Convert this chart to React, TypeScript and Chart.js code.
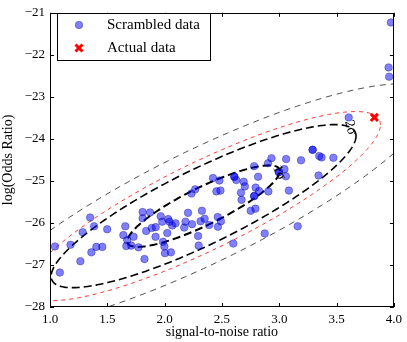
import React, { useEffect, useRef } from "react";
import { Chart, registerables } from "chart.js";

Chart.register(...registerables);

// Scrambled data (signal-to-noise ratio, log odds ratio)
const scrambledX = [
  1.043, 1.086, 1.179, 1.265, 1.285, 1.35, 1.361, 1.385, 1.404, 1.456,
  1.499, 1.657, 1.64, 1.674, 1.666, 1.709, 1.729, 1.772, 1.808, 1.808,
  1.824, 1.839, 1.873, 1.888, 1.922, 1.921, 1.966, 1.979, 1.986, 1.998,
  2.003, 2.023, 2.031, 2.043, 2.055, 2.066, 2.095, 2.171, 2.182, 2.204,
  2.239, 2.297, 2.292, 2.325, 2.314, 2.349, 2.388, 2.422, 2.464, 2.465,
  2.234, 2.267, 2.452, 2.478, 2.487, 2.491, 2.599, 2.608, 2.608, 2.625,
  2.69, 2.7, 2.666, 2.671, 2.781, 2.781, 2.781, 2.794, 2.815, 2.824,
  2.751, 2.792, 2.873, 2.902, 2.905, 2.932, 2.997, 2.997, 3.045, 3.06,
  3.058, 3.084, 3.161, 3.19, 3.291, 3.291, 3.349, 3.369, 3.343, 3.472,
  3.606, 3.974, 3.954, 3.959,
];
const scrambledY = [
  -26.56, -27.18, -26.52, -26.91, -26.22, -25.87, -26.7, -26.08, -26.57, -26.57,
  -26.15, -26.08, -26.29, -26.41, -26.55, -26.54, -26.33, -26.58, -25.74, -25.89,
  -26.86, -26.19, -25.75, -26.12, -26.1, -26.33, -25.84, -25.97, -26.45, -26.56,
  -26.72, -26.24, -25.91, -25.97, -26.7, -26.06, -26.01, -26.11, -25.97, -25.76,
  -26.03, -26.54, -26.31, -25.71, -25.96, -25.9, -26.05, -24.93, -25.86, -26.09,
  -25.3, -25.2, -25.25, -24.99, -25.23, -25.96, -26.49, -24.9, -24.9, -24.98,
  -25.02, -25.13, -25.28, -25.45, -24.65, -25.36, -25.36, -25.16, -24.9, -25.24,
  -25.71, -25.66, -26.25, -24.58, -25.25, -24.46, -24.79, -24.79, -24.72, -24.48,
  -24.89, -25.23, -26.08, -24.51, -24.26, -24.26, -24.41, -24.44, -24.87, -24.45,
  -23.49, -21.23, -22.3, -22.52,
];

// Actual data
const actualX = [3.83];
const actualY = [-23.49];

// Axis ticks
const xTicks = [1.0, 1.5, 2.0, 2.5, 3.0, 3.5, 4.0];
const yTicks = [-28, -27, -26, -25, -24, -23, -22, -21];

// Gaussian contour parameters (mean, sigmas, correlation) and levels
const contourCenter = [2.34, -25.6];
const contourSigma = [0.665, 0.97];
const contourRho = 0.86;
const contourLevels = [1, 2, 2.32, 3];
const contourColors = ["#000000", "#000000", "#ff2020", "#222222"];
const contourWidths = [2, 1.6, 0.9, 0.8];
const contourDashes = [[8, 4], [8, 4], [4, 4], [6, 5]];
const contourLabelText = ["1σ", "2σ"];
const contourLabelX = [3.0, 3.62];
const contourLabelY = [-24.8, -23.73];

const SERIF = '"Liberation Serif", "Times New Roman", serif';
const BLUE_FILL = "rgba(0,0,255,0.5)";
const BLUE_EDGE = "rgba(0,0,110,0.55)";

function contourPoints(k: number) {
  const pts: { x: number; y: number }[] = [];
  const s = Math.sqrt(1 - contourRho * contourRho);
  for (let i = 0; i <= 240; i++) {
    const t = (i / 240) * Math.PI * 2;
    pts.push({
      x: contourCenter[0] + k * contourSigma[0] * Math.cos(t),
      y: contourCenter[1] + k * contourSigma[1] * (contourRho * Math.cos(t) + s * Math.sin(t)),
    });
  }
  return pts;
}

const decorPlugin = {
  id: "decor",
  afterDraw(chart: any) {
    const { ctx, chartArea, scales } = chart;
    const { left, right, top, bottom } = chartArea;
    const xs = scales.x;
    const ys = scales.y;
    ctx.save();

    // contour labels
    ctx.fillStyle = "#000";
    ctx.font = `14px ${SERIF}`;
    ctx.textAlign = "center";
    ctx.textBaseline = "middle";
    const rots = [65, 75];
    for (let i = 0; i < contourLabelText.length; i++) {
      const px = xs.getPixelForValue(contourLabelX[i]);
      const py = ys.getPixelForValue(contourLabelY[i]);
      ctx.save();
      ctx.translate(px, py);
      ctx.rotate((rots[i] * Math.PI) / 180);
      ctx.fillText(contourLabelText[i], 0, 0);
      ctx.restore();
    }

    // frame
    ctx.strokeStyle = "#000";
    ctx.lineWidth = 1;
    ctx.strokeRect(Math.round(left) + 0.5, Math.round(top) + 0.5, Math.round(right - left) - 1, Math.round(bottom - top) - 1);

    // inward ticks on all four sides
    const tl = 4;
    ctx.beginPath();
    for (const v of xTicks) {
      const px = Math.round(xs.getPixelForValue(v)) + 0.5;
      ctx.moveTo(px, bottom);
      ctx.lineTo(px, bottom - tl);
      ctx.moveTo(px, top);
      ctx.lineTo(px, top + tl);
    }
    for (const v of yTicks) {
      const py = Math.round(ys.getPixelForValue(v)) + 0.5;
      ctx.moveTo(left, py);
      ctx.lineTo(left + tl, py);
      ctx.moveTo(right, py);
      ctx.lineTo(right - tl, py);
    }
    ctx.stroke();

    // axis titles
    ctx.fillStyle = "#000";
    ctx.font = `14px ${SERIF}`;
    ctx.textAlign = "center";
    ctx.textBaseline = "middle";
    ctx.fillText("signal-to-noise ratio", (left + right) / 2, 332);
    ctx.save();
    ctx.translate(8, (top + bottom) / 2);
    ctx.rotate(-Math.PI / 2);
    ctx.fillText("log(Odds Ratio)", 0, 0);
    ctx.restore();

    // legend
    const lx = 57.5, ly = 13.5, lw = 153, lh = 47;
    ctx.fillStyle = "#fff";
    ctx.fillRect(lx, ly, lw, lh);
    ctx.strokeStyle = "#000";
    ctx.lineWidth = 1;
    ctx.strokeRect(lx, ly, lw, lh);
    ctx.beginPath();
    ctx.arc(79, 25, 3.8, 0, Math.PI * 2);
    ctx.fillStyle = BLUE_FILL;
    ctx.fill();
    ctx.strokeStyle = BLUE_EDGE;
    ctx.lineWidth = 0.6;
    ctx.stroke();
    ctx.strokeStyle = "#ff0000";
    ctx.lineWidth = 3;
    ctx.beginPath();
    ctx.moveTo(75.5, 44.5);
    ctx.lineTo(82.5, 51.5);
    ctx.moveTo(82.5, 44.5);
    ctx.lineTo(75.5, 51.5);
    ctx.stroke();
    ctx.fillStyle = "#000";
    ctx.font = `15px ${SERIF}`;
    ctx.textAlign = "left";
    ctx.textBaseline = "middle";
    ctx.fillText("Scrambled data", 107, 25);
    ctx.fillText("Actual data", 107, 48);

    ctx.restore();
  },
};

export default function App() {
  const ref = useRef<HTMLCanvasElement | null>(null);

  useEffect(() => {
    if (!ref.current) return;
    const scattered = scrambledX.map((x, i) => ({ x, y: scrambledY[i] }));
    const actual = actualX.map((x, i) => ({ x, y: actualY[i] }));
    const contourSets = contourLevels.map((k, i) => ({
      label: `contour ${k}`,
      data: contourPoints(k),
      showLine: true,
      pointRadius: 0,
      borderColor: contourColors[i],
      borderWidth: contourWidths[i],
      borderDash: contourDashes[i],
      backgroundColor: "transparent",
      fill: false,
      tension: 0,
      order: 2 + i,
    }));

    const chart = new Chart(ref.current, {
      type: "scatter",
      data: {
        datasets: [
          {
            label: "Actual data",
            data: actual,
            pointStyle: "crossRot",
            pointRadius: 5,
            borderWidth: 3,
            borderColor: "#ff0000",
            backgroundColor: "#ff0000",
            order: -1,
          } as any,
          {
            label: "Scrambled data",
            data: scattered,
            pointRadius: 3.8,
            borderWidth: 0.6,
            backgroundColor: BLUE_FILL,
            borderColor: BLUE_EDGE,
            order: 0,
          },
          ...contourSets,
        ],
      },
      options: {
        animation: false,
        responsive: false,
        events: [],
        layout: { padding: { top: 5, right: 10, left: 0, bottom: 0 } },
        plugins: {
          legend: { display: false },
          tooltip: { enabled: false },
          title: { display: false },
        },
        scales: {
          x: {
            type: "linear",
            min: 1,
            max: 4,
            afterFit: (s: any) => {
              s.height = 35;
            },
            grid: { display: false, drawTicks: false },
            border: { display: false },
            ticks: {
              stepSize: 0.5,
              autoSkip: false,
              maxRotation: 0,
              padding: 5,
              color: "#000",
              font: { family: SERIF, size: 13 },
              callback: (v: any) => Number(v).toFixed(1),
            },
          },
          y: {
            type: "linear",
            min: -28,
            max: -21,
            afterFit: (s: any) => {
              s.width = 50;
            },
            grid: { display: false, drawTicks: false },
            border: { display: false },
            ticks: {
              stepSize: 1,
              autoSkip: false,
              padding: 5,
              color: "#000",
              font: { family: SERIF, size: 13 },
              callback: (v: any) => (Number(v) < 0 ? "\u2212" : "") + Math.abs(Number(v)),
            },
          },
        },
      },
      plugins: [decorPlugin],
    });
    return () => chart.destroy();
  }, []);

  return (
    <div style={{ position: "fixed", left: 0, top: 0, width: 407, height: 342, background: "#fff" }}>
      <canvas ref={ref} width={407} height={342} style={{ width: 407, height: 342, display: "block" }} />
    </div>
  );
}
